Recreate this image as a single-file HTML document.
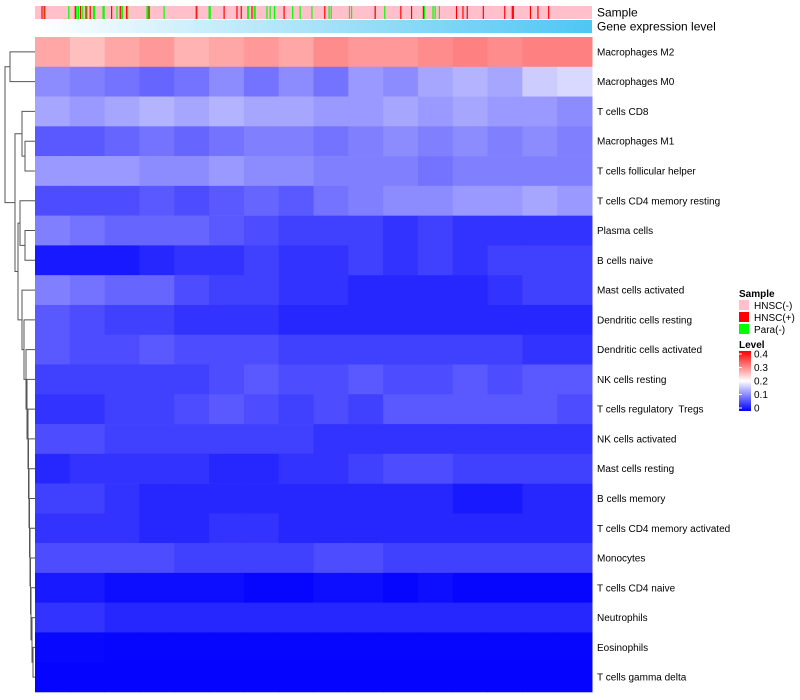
<!DOCTYPE html>
<html><head><meta charset="utf-8"><style>
html,body{margin:0;padding:0;background:#fff;}
svg{display:block;font-family:"Liberation Sans",sans-serif;}
</style></head><body>
<svg id="chart" width="800" height="700" viewBox="0 0 800 700" xmlns="http://www.w3.org/2000/svg">
<defs><linearGradient id="geneGrad" x1="0" x2="1" y1="0" y2="0"><stop offset="0" stop-color="#ffffff"/><stop offset="1" stop-color="#4fc6f3"/></linearGradient>
<linearGradient id="levelGrad" x1="0" x2="0" y1="1" y2="0"><stop offset="0" stop-color="#0000ff"/><stop offset="0.5" stop-color="#ffffff"/><stop offset="1" stop-color="#ff0000"/></linearGradient></defs>
<g id="dendro"></g>
<g id="annot"></g>
<rect x="35" y="20" width="557" height="13" fill="url(#geneGrad)"/>
<text x="597" y="16.5" font-size="12">Sample</text>
<text x="597" y="30.5" font-size="12">Gene expression level</text>
<g id="cells"></g>
<g id="rowlabels"></g>
<g>
<text x="739" y="297" font-size="10" font-weight="bold">Sample</text>
<rect x="739" y="300" width="10" height="10" fill="#ffc0cb"/>
<text x="754" y="309" font-size="10">HNSC(-)</text>
<rect x="739" y="312" width="10" height="10" fill="#ff0000"/>
<text x="754" y="321" font-size="10">HNSC(+)</text>
<rect x="739" y="324" width="10" height="10" fill="#00ff00"/>
<text x="754" y="333" font-size="10">Para(-)</text>
<text x="739" y="348" font-size="10" font-weight="bold">Level</text>
<rect x="739" y="351" width="12" height="60" fill="url(#levelGrad)"/>
<g id="levelticks"></g>
</g>
</svg>
<script>
const rowNames=["Macrophages M2","Macrophages M0","T cells CD8","Macrophages M1","T cells follicular helper","T cells CD4 memory resting","Plasma cells","B cells naive","Mast cells activated","Dendritic cells resting","Dendritic cells activated","NK cells resting","T cells regulatory\u00a0 Tregs","NK cells activated","Mast cells resting","B cells memory","T cells CD4 memory activated","Monocytes","T cells CD4 naive","Neutrophils","Eosinophils","T cells gamma delta"];
const r0=[0.27,0.25,0.27,0.28,0.26,0.27,0.28,0.27,0.29,0.28,0.28,0.29,0.3,0.29,0.3,0.3];
const r1=[0.11,0.1,0.09,0.08,0.09,0.11,0.09,0.11,0.09,0.12,0.11,0.13,0.14,0.13,0.16,0.17];
const r2=[0.13,0.12,0.13,0.14,0.13,0.14,0.13,0.13,0.12,0.12,0.13,0.12,0.13,0.12,0.12,0.11];
const r3=[0.07,0.07,0.08,0.09,0.08,0.09,0.1,0.1,0.09,0.1,0.11,0.1,0.11,0.1,0.11,0.1];
const r4=[0.12,0.12,0.12,0.11,0.11,0.12,0.11,0.11,0.1,0.1,0.1,0.09,0.1,0.1,0.1,0.1];
const r5=[0.06,0.06,0.06,0.07,0.06,0.07,0.08,0.07,0.09,0.1,0.11,0.11,0.12,0.12,0.13,0.12];
const r6=[0.1,0.09,0.08,0.08,0.08,0.07,0.06,0.05,0.05,0.05,0.04,0.05,0.04,0.04,0.04,0.04];
const r7=[0.02,0.02,0.02,0.03,0.04,0.04,0.05,0.04,0.04,0.05,0.04,0.05,0.04,0.05,0.05,0.05];
const r8=[0.1,0.09,0.08,0.08,0.06,0.05,0.05,0.04,0.04,0.03,0.03,0.03,0.03,0.04,0.05,0.05];
const r9=[0.07,0.06,0.05,0.05,0.04,0.04,0.04,0.03,0.03,0.03,0.03,0.03,0.03,0.03,0.03,0.03];
const r10=[0.07,0.06,0.06,0.07,0.06,0.06,0.06,0.05,0.05,0.05,0.05,0.05,0.05,0.05,0.04,0.04];
const r11=[0.05,0.05,0.05,0.05,0.05,0.06,0.07,0.06,0.06,0.07,0.06,0.06,0.07,0.06,0.07,0.07];
const r12=[0.04,0.04,0.05,0.05,0.06,0.07,0.06,0.05,0.06,0.05,0.07,0.07,0.07,0.07,0.07,0.06];
const r13=[0.06,0.06,0.05,0.05,0.05,0.05,0.05,0.05,0.04,0.04,0.04,0.04,0.04,0.04,0.04,0.04];
const r14=[0.03,0.04,0.04,0.04,0.04,0.03,0.03,0.04,0.04,0.05,0.06,0.06,0.05,0.05,0.05,0.05];
const r15=[0.05,0.05,0.04,0.03,0.03,0.03,0.03,0.03,0.03,0.03,0.03,0.03,0.02,0.02,0.03,0.03];
const r16=[0.04,0.04,0.04,0.03,0.03,0.04,0.04,0.03,0.03,0.03,0.03,0.03,0.03,0.03,0.03,0.03];
const r17=[0.06,0.06,0.06,0.06,0.05,0.05,0.05,0.05,0.06,0.06,0.05,0.05,0.05,0.05,0.05,0.05];
const r18=[0.02,0.02,0.01,0.01,0.01,0.01,0.005,0.005,0.01,0.01,0.005,0.01,0.005,0.005,0.005,0.005];
const r19=[0.04,0.04,0.03,0.03,0.03,0.03,0.03,0.03,0.03,0.03,0.03,0.03,0.03,0.03,0.03,0.03];
const r20=[0.006,0.006,0.005,0.005,0.005,0.005,0.005,0.005,0.005,0.005,0.005,0.005,0.005,0.005,0.005,0.005];
const r21=[0.004,0.003,0.003,0.003,0.003,0.003,0.003,0.003,0.003,0.003,0.003,0.003,0.003,0.003,0.003,0.003];
const rows=[r0,r1,r2,r3,r4,r5,r6,r7,r8,r9,r10,r11,r12,r13,r14,r15,r16,r17,r18,r19,r20,r21];
const nSamples=520;
const greenSamples=[9,31,38,40,44,48,54,55,63,64,76,80,81,86,104,105,120,151,162,163,198,199,204,205,216,219,223,240,247,258,274,276,293,295,317,326,363,371,373,377];
const redSamples=[6,8,37,42,47,51,71,79,85,106,150,176,188,192,202,232,270,317,341,351,362,393,399,403,418,438,445,446,462,469,479];
const levelTicks=[0,0.1,0.2,0.3,0.4];
// dendrogram merges: [childA, childB, height-x]; ids <22 are leaves, >=22 are earlier merges
const merges=[[0,1,10],[3,4,25],[2,23,22],[6,7,25],[5,25,20],[20,21,33],[19,27,32],[18,28,31],[17,29,30.5],[16,30,30],[15,31,29.5],[14,32,29],[13,33,28.5],[12,34,28],[11,35,27],[10,36,26],[9,37,24],[8,38,22],[26,39,18],[24,40,15],[22,41,5]];

const NS="http://www.w3.org/2000/svg";
const X0=35,X1=592,Y0=37,Y1=692;
const rowH=(Y1-Y0)/rows.length;
const xs=i=>X0+(X1-X0)*i/nSamples;
const rowY=i=>Y0+rowH*i;
function color(v){v=Math.max(0,Math.min(0.4,v));let r,g,b;
 if(v<=0.2){const t=v/0.2;r=255*t;g=255*t;b=255;}else{const t=(v-0.2)/0.2;r=255;g=255*(1-t);b=255*(1-t);}
 return `rgb(${Math.round(r)},${Math.round(g)},${Math.round(b)})`;}
function mk(tag,attrs,parent){const e=document.createElementNS(NS,tag);for(const k in attrs)e.setAttribute(k,attrs[k]);parent.appendChild(e);return e;}

const annot=document.getElementById('annot');
const bg=mk('rect',{x:X0,y:6,width:X1-X0,height:13,fill:'#ffc0cb'},annot);


greenSamples.forEach(s=>{const e=mk('rect',{x:xs(s),y:6,width:(X1-X0)/nSamples*1.1,height:13,fill:'#00ff00'},annot);
 
 });
redSamples.forEach(s=>{const e=mk('rect',{x:xs(s),y:6,width:(X1-X0)/nSamples*1.1,height:13,fill:'#ff0000'},annot);
 
 });

const cells=document.getElementById('cells');
const labels=document.getElementById('rowlabels');
rows.forEach((vals,ri)=>{const bw=(X1-X0)/vals.length;
 vals.forEach((v,ci)=>{const e=mk('rect',{x:X0+bw*ci,y:rowY(ri),width:bw+0.5,height:rowH+0.3,fill:color(v)},cells);
  
  });
 const t=mk('text',{x:597,y:rowY(ri)+rowH/2+3.5,'font-size':10,fill:'#000'},labels);
 
 
 t.textContent=rowNames[ri];});

const dg=document.getElementById('dendro');
const pos=[];for(let i=0;i<rows.length;i++)pos.push({x:X0,y:rowY(i)+rowH/2});
merges.forEach(m=>{const a=pos[m[0]],b=pos[m[1]],h=m[2];
 const p=mk('path',{d:`M${a.x},${a.y}H${h}V${b.y}H${b.x}`,fill:'none',stroke:'#555',"stroke-width":1},dg);
 
 
 pos.push({x:h,y:(a.y+b.y)/2});});

const lt=document.getElementById('levelticks');
const ly=v=>408-(408-354)*v/0.4;
levelTicks.forEach(v=>{const l=mk('line',{x1:739,x2:742,y1:ly(v),y2:ly(v),stroke:'#fff'},lt);
 
 
 const t=mk('text',{x:754,y:ly(v)+3.5,'font-size':10},lt);
 
 
 t.textContent=String(v);});
</script>
</body></html>
